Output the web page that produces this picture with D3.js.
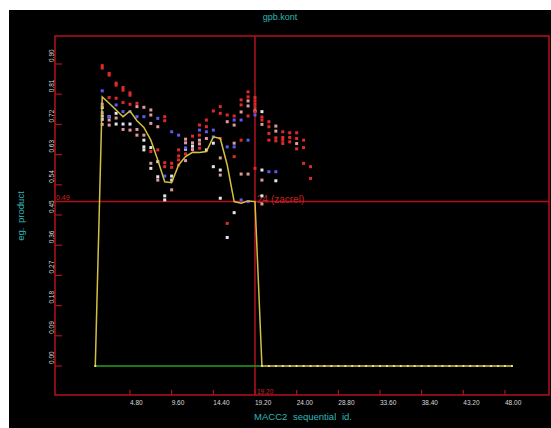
<!DOCTYPE html>
<html>
<head>
<meta charset="utf-8">
<script src="https://cdn.jsdelivr.net/npm/d3@7"></script>
<style>
  body { margin: 0; background: #fff; }
  svg text { font-family: "Liberation Sans", Arial, sans-serif; }
</style>
</head>
<body>
<svg id="chart" width="551" height="428"></svg>
<script>
// sequential id -> axis value step
const ID_STEP = 0.8;

const xTicks = [4.8, 9.6, 14.4, 19.2, 24.0, 28.8, 33.6, 38.4, 43.2, 48.0];
const yTicks = [0.00, 0.09, 0.18, 0.27, 0.36, 0.45, 0.54, 0.63, 0.72, 0.81, 0.90];

// mean line, ids 1..61
const meanIds = d3.range(1, 62);
const meanVals = [
  0, 0.802, 0.783, 0.763, 0.743, 0.760, 0.731, 0.711, 0.673, 0.614,
  0.549, 0.546, 0.599, 0.624, 0.637, 0.636, 0.639, 0.683, 0.678, 0.599,
  0.490, 0.485, 0.492, 0.490, 0, 0, 0, 0, 0, 0,
  0, 0, 0, 0, 0, 0, 0, 0, 0, 0,
  0, 0, 0, 0, 0, 0, 0, 0, 0, 0,
  0, 0, 0, 0, 0, 0, 0, 0, 0, 0,
  0
];
const baseIds = [1, 25];

const redPts = [[2,0.895],[2,0.888],[3,0.872],[3,0.867],[3,0.80],[4,0.843],[4,0.837],[4,0.798],[5,0.830],[5,0.822],[5,0.785],
  [6,0.814],[6,0.807],[6,0.78],[7,0.783],[9,0.639],[10,0.644],[11,0.743],[11,0.731],[11,0.606],[11,0.594],[12,0.604],[12,0.592],
  [13,0.644],[13,0.626],[13,0.614],[13,0.599],[14,0.632],[15,0.685],[16,0.718],[16,0.688],[16,0.649],[17,0.733],[17,0.713],
  [18,0.76],[19,0.773],[19,0.753],[19,0.678],[20,0.748],[20,0.425],[21,0.745],[21,0.624],[22,0.793],[22,0.778],[22,0.673],
  [23,0.817],[23,0.802],[23,0.745],[24,0.80],[24,0.79],[24,0.78],[24,0.77],[24,0.758],[24,0.589],[25,0.742],[25,0.733],
  [26,0.728],[26,0.713],[26,0.693],[26,0.673],[27,0.680],[27,0.671],[28,0.698],[28,0.681],[28,0.673],[28,0.663],
  [29,0.695],[29,0.681],[29,0.668],[30,0.695],[30,0.678],[30,0.647],[31,0.673],[31,0.651],[31,0.604],[32,0.594],[32,0.559]];
const pinkPts = [[2,0.78],[2,0.755],[2,0.72],[3,0.733],[3,0.718],[4,0.739],[5,0.705],[6,0.703],[7,0.773],[7,0.705],[7,0.688],
  [8,0.771],[8,0.688],[9,0.763],[9,0.748],[9,0.723],[9,0.604],[10,0.713],[10,0.554],[12,0.525],[14,0.676],[14,0.665],[14,0.612],
  [15,0.665],[15,0.645],[16,0.673],[16,0.662],[17,0.678],[19,0.62],[19,0.569],[20,0.728],[21,0.718],[21,0.664],[22,0.757],
  [22,0.572],[23,0.79],[23,0.775],[23,0.572],[25,0.72],[25,0.554],[25,0.483],[27,0.715],[27,0.70],[30,0.663]];
const whitePts = [[2,0.77],[2,0.745],[2,0.735],[3,0.743],[4,0.753],[4,0.721],[5,0.721],[6,0.721],[8,0.673],[8,0.653],[8,0.644],
  [9,0.651],[9,0.589],[10,0.609],[10,0.564],[11,0.507],[11,0.495],[12,0.566],[12,0.554],[14,0.646],[15,0.655],[17,0.644],
  [18,0.664],[18,0.594],[19,0.584],[19,0.50],[20,0.383],[21,0.457],[24,0.76],[25,0.758],[25,0.584],[25,0.507],[27,0.552]];
const bluePts = [[2,0.82],[3,0.743],[4,0.778],[5,0.758],[6,0.758],[7,0.743],[8,0.743],[10,0.738],[11,0.566],[12,0.698],
  [13,0.688],[14,0.65],[16,0.703],[17,0.698],[18,0.703],[18,0.683],[20,0.653],[21,0.733],[21,0.653],[22,0.733],[23,0.673],
  [24,0.748],[26,0.579],[27,0.579],[22,0.495],[23,0.49]];

const refY = 0.49;      // horizontal marker
const refId = 24;       // vertical marker (zacrel)

const svg = d3.select("#chart");
const x = d3.scaleLinear().domain([0, 48]).range([88.33, 505]);
const y = d3.scaleLinear().domain([0, 0.9]).range([366, 64]);
const frame = { left: 55, top: 36, right: 549, bottom: 395 };

const red = "#b3101c", cyan = "#2fb8b8", yellow = "#d4c040";

svg.append("rect").attr("x", 9).attr("y", 10).attr("width", 542).attr("height", 418).attr("fill", "#000");

svg.append("text").attr("x", 280).attr("y", 20).attr("text-anchor", "middle")
  .attr("fill", cyan).attr("font-size", 9).text("gpb.kont");

svg.append("rect")
  .attr("x", frame.left).attr("y", frame.top)
  .attr("width", frame.right - frame.left).attr("height", frame.bottom - frame.top)
  .attr("fill", "none").attr("stroke", red).attr("stroke-width", 1.5);

// y ticks (inward) and rotated labels
const gy = svg.append("g");
gy.selectAll("line").data(yTicks).join("line")
  .attr("x1", frame.left).attr("x2", frame.left + 7)
  .attr("y1", d => y(d)).attr("y2", d => y(d))
  .attr("stroke", red).attr("stroke-width", 1.2);
gy.selectAll("text").data(yTicks).join("text")
  .attr("transform", d => `translate(53.5,${y(d) - 2}) rotate(-90)`)
  .attr("fill", "#d8d8d8").attr("font-size", 6.5)
  .text(d => d.toFixed(2));

// x ticks (upward) and labels
const gx = svg.append("g");
gx.selectAll("line").data(xTicks).join("line")
  .attr("x1", d => x(d)).attr("x2", d => x(d))
  .attr("y1", frame.bottom).attr("y2", frame.bottom - 5)
  .attr("stroke", red).attr("stroke-width", 1.2);
gx.selectAll("text").data(xTicks).join("text")
  .attr("x", d => x(d)).attr("y", 404.5)
  .attr("fill", "#d8d8d8").attr("font-size", 6.5)
  .text(d => d.toFixed(2));

svg.append("text").attr("x", 303).attr("y", 420).attr("text-anchor", "middle")
  .attr("fill", cyan).attr("font-size", 9.5).attr("word-spacing", 3)
  .text("MACC2 sequential id.");
svg.append("text").attr("transform", "translate(24,216) rotate(-90)").attr("text-anchor", "middle")
  .attr("fill", cyan).attr("font-size", 9.5).attr("word-spacing", 2)
  .text("eg. product");

// reference lines
svg.append("line").attr("x1", frame.left).attr("x2", frame.right)
  .attr("y1", y(refY)).attr("y2", y(refY)).attr("stroke", red).attr("stroke-width", 1.5);
svg.append("line").attr("x1", x(refId * ID_STEP)).attr("x2", x(refId * ID_STEP))
  .attr("y1", frame.top).attr("y2", frame.bottom).attr("stroke", red).attr("stroke-width", 1.5);

svg.append("text").attr("x", frame.left + 1).attr("y", y(refY) - 1.5)
  .attr("fill", "#d02020").attr("font-size", 7).text(refY.toFixed(2));
svg.append("text").attr("x", x(refId * ID_STEP) + 2).attr("y", frame.bottom - 1.5)
  .attr("fill", "#d02020").attr("font-size", 6.5).text((refId * ID_STEP).toFixed(2));
svg.append("text").attr("x", x(refId * ID_STEP) + 2).attr("y", y(refY) + 1)
  .attr("fill", "#c82020").attr("font-size", 10).text(refId + " (zacrel)");

// scatter
function drawPts(pts, color) {
  svg.append("g").selectAll("rect").data(pts).join("rect")
    .attr("x", d => x(d[0] * ID_STEP) - 1.5).attr("y", d => y(d[1]) - 1.5)
    .attr("width", 3).attr("height", 3).attr("fill", color);
}
drawPts(pinkPts, "#e09a9a");
drawPts(whitePts, "#e4e4ec");
drawPts(bluePts, "#5a5af0");
drawPts(redPts, "#e02a2a");

// mean line
const meanData = meanIds.map((id, i) => [id * ID_STEP, meanVals[i]]);
const line = d3.line().x(d => x(d[0])).y(d => y(d[1]));
svg.append("path").datum(meanData).attr("d", line)
  .attr("fill", "none").attr("stroke", yellow).attr("stroke-width", 1.5);
svg.append("path").datum(baseIds.map(id => [id * ID_STEP, 0])).attr("d", line)
  .attr("fill", "none").attr("stroke", "#22a022").attr("stroke-width", 1.5);
svg.append("g").selectAll("rect").data(meanData.filter(d => d[1] === 0 && d[0] >= 25 * ID_STEP)).join("rect")
  .attr("x", d => x(d[0]) - 1).attr("y", d => y(d[1]) - 1)
  .attr("width", 2).attr("height", 2).attr("fill", "#f0e070");
svg.append("g").selectAll("rect").data([meanData[0]]).join("rect")
  .attr("x", d => x(d[0]) - 1).attr("y", d => y(d[1]) - 1)
  .attr("width", 2).attr("height", 2).attr("fill", "#f0e070");
</script>
</body>
</html>
